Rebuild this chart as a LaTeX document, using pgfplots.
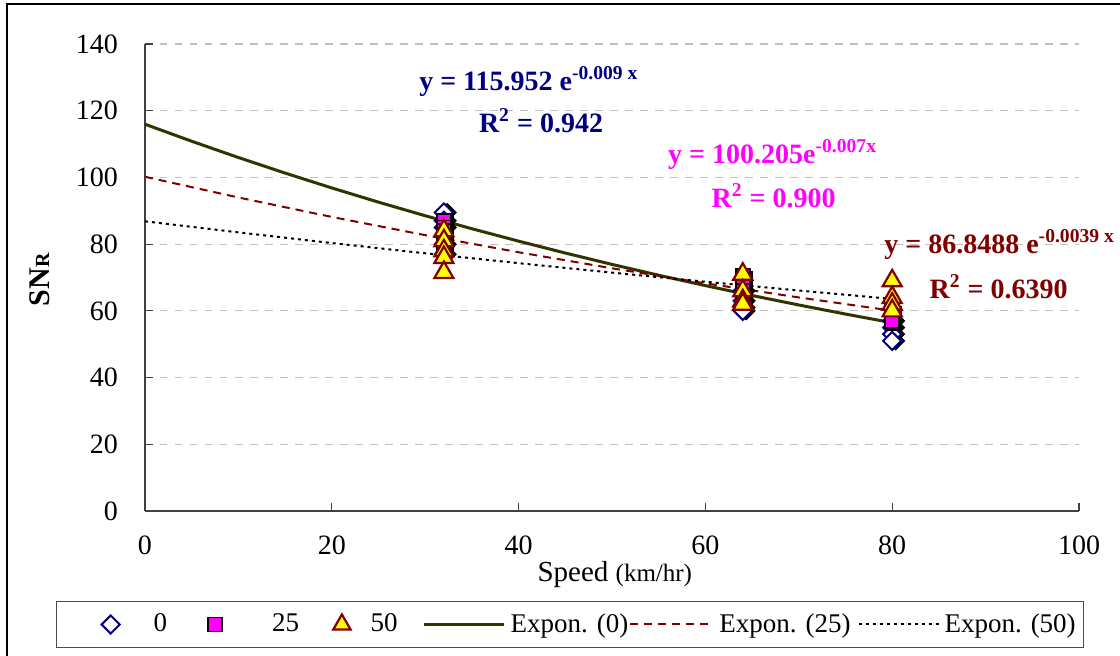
\documentclass[border=0pt]{standalone}
\usepackage{pgfplots}
\pgfplotsset{compat=1.18}
\usepackage{fontspec}
\setmainfont{Liberation Serif}
\definecolor{navy}{RGB}{0,0,128}
\definecolor{dred}{RGB}{128,0,0}
\definecolor{olivetl}{RGB}{51,51,0}
\definecolor{gridg}{RGB}{192,192,192}
\definecolor{magent}{RGB}{255,0,255}
\definecolor{yel}{RGB}{255,255,0}

\pgfplotsset{
  legmarkpad/.style={legend image code/.code={\path (-23pt,0pt); \draw[##1] plot coordinates {(0pt,0pt)};}},
  legmark/.style={legend image code/.code={\draw[##1] plot coordinates {(0pt,0pt)};}},
  leglineA/.style={legend image code/.code={\draw[##1] (0pt,0pt) -- (40pt,0pt);}},
  leglineB/.style={legend image code/.code={\draw[##1] (0pt,0pt) -- (41pt,0pt);}},
}

\pgfplotstableread{
x y
32 89.5
32 87
32 85
32 80
32 77
64 66
64 63
64 61
64 60
80 57
80 55
80 53
80 51
}\sA
\pgfplotstableread{
x y
32 87
32 85
32 84
32 82
32 79
64 70.5
64 68
64 66
64 63
80 60
80 59
80 58
80 57
}\sB
\pgfplotstableread{
x y
32 84
32 81
32 78
32 76
32 71.5
64 71
64 66
64 63
64 62
80 69
80 64
80 62
80 60
}\sC

\begin{document}
\begin{tikzpicture}[x=1pt,y=1pt]
\path[use as bounding box] (-72.5,-72) rectangle (487.5,255.5);
\draw[line width=1pt] (-69,-90) -- (-69,253.5) -- (500,253.5);
\begin{axis}[at={(0,0)}, anchor=south west, scale only axis,
  width=467pt, height=233.5pt,
  xmin=0, xmax=100, ymin=0, ymax=140,
  xtick={0,20,...,100}, ytick={0,20,...,140},
  axis lines=left, axis line style={-, black!75, line width=0.6pt},
  tick align=inside, major tick length=4pt, tick style={black!75, line width=0.6pt},
  ymajorgrids, grid style={gridg, line width=0.6pt, dash pattern=on 3.75pt off 3.75pt},
  ticklabel style={font=\fontsize{14}{16}\selectfont},
  /pgf/number format/assume math mode=true,
  yticklabel style={xshift=-10pt},
  xticklabel style={yshift=-9pt},
  clip=false,
  ylabel={\fontsize{15}{17}\selectfont\bfseries SN{\fontsize{10}{10}\selectfont R}},
  xlabel={\fontsize{14.5}{16}\selectfont Speed {\fontsize{12.5}{14}\selectfont (km/hr)}},
  every axis y label/.style={at={(axis description cs:-0.113,0.495)}, rotate=90, anchor=center},
  every axis x label/.style={at={(axis description cs:0.503,-0.137)}, anchor=center},
  legend columns=6,
  legend style={at={(axis description cs:0.455,-0.243)}, anchor=center,
    draw=black!70, line width=0.5pt, inner xsep=4pt, inner ysep=6pt,
    font=\fontsize{13.5}{15}\selectfont, column sep=0pt, nodes={inner sep=0pt},
    /tikz/column 1/.style={column sep=17pt},
    /tikz/column 2/.style={column sep=20.5pt},
    /tikz/column 3/.style={column sep=25pt},
    /tikz/column 4/.style={column sep=17pt},
    /tikz/column 5/.style={column sep=10pt},
    /tikz/column 6/.style={column sep=12.5pt},
    /tikz/column 7/.style={column sep=2.5pt},
    /tikz/column 8/.style={column sep=0.5pt},
    /tikz/column 9/.style={column sep=3pt},
    /tikz/column 10/.style={column sep=3.5pt},
    /tikz/column 11/.style={column sep=1.5pt}},
]
% diamonds (series 0) with shadow
\addplot[forget plot, only marks, mark=square*, mark size=3.2pt,
  mark options={rotate=45, draw=black, fill=black, xshift=1.2pt, yshift=-1.2pt}] table[x=x,y=y] {\sA};
\addplot[forget plot, only marks, mark=square*, mark size=3.2pt,
  mark options={rotate=45, draw=navy, fill=white, line width=1pt}] table[x=x,y=y] {\sA};
% squares (series 25) with shadow
\addplot[forget plot, only marks, mark=square*, mark size=3.5pt,
  mark options={draw=black, fill=black, xshift=1.2pt, yshift=-1.2pt}] table[x=x,y=y] {\sB};
\addplot[forget plot, only marks, mark=square*, mark size=3.5pt,
  mark options={draw=black, fill=magent, line width=0.8pt}] table[x=x,y=y] {\sB};
% trendlines
\addplot[forget plot, olivetl, line width=1.5pt] coordinates {
 (0,115.95) (5,110.85) (10,105.97) (15,101.31) (20,96.85) (25,92.59) (30,88.52)
 (35,84.62) (40,80.90) (45,77.34) (50,73.93) (55,70.68) (60,67.57) (65,64.60)
 (70,61.76) (75,59.04) (80,56.44)};
\addplot[forget plot, dred, line width=1pt, dash pattern=on 4pt off 3pt] coordinates {
 (0,100.2) (10,93.99) (20,88.16) (30,82.70) (40,77.57) (50,72.76) (60,68.25) (70,64.02) (80,60.05)};
\addplot[forget plot, black, line width=1pt, dash pattern=on 1.5pt off 2pt] coordinates {
 (0,86.85) (10,83.53) (20,80.33) (30,77.26) (40,74.30) (50,71.46) (60,68.73) (70,66.10) (80,63.57)};
% triangles (series 50)
\addplot[forget plot, only marks, mark=triangle*, mark size=5.5pt,
  mark options={draw=dred, fill=yel, line width=1.1pt}] table[x=x,y=y] {\sC};

% legend
\addlegendimage{only marks, mark=square*, mark size=3.2pt,
  mark options={rotate=45, draw=navy, fill=white, line width=1pt}, legmarkpad}
\addlegendentry{0}
\addlegendimage{only marks, mark=square*, mark size=3.5pt,
  mark options={draw=black, fill=magent, line width=0.8pt}, legmark}
\addlegendentry{25}
\addlegendimage{only marks, mark=triangle*, mark size=5pt,
  mark options={draw=dred, fill=yel, line width=1.1pt}, legmark}
\addlegendentry{50}
\addlegendimage{olivetl, line width=1.5pt, leglineA}
\addlegendentry{Expon. (0)}
\addlegendimage{dred, line width=1pt, dash pattern=on 4pt off 3pt, leglineB}
\addlegendentry{Expon. (25)}
\addlegendimage{black, line width=1pt, dash pattern=on 1.5pt off 2pt, leglineB}
\addlegendentry{Expon. (50)}

% equations
\node[anchor=base, text=navy, font=\fontsize{14}{16}\selectfont\bfseries] at (axis cs:41.1,126.2)
  {y = 115.952 e\textsuperscript{-0.009 x}};
\node[anchor=base, text=navy, font=\fontsize{14}{16}\selectfont\bfseries] at (axis cs:42.4,113.6)
  {R\textsuperscript{2} = 0.942};
\node[anchor=base, text=magent, font=\fontsize{14}{16}\selectfont\bfseries] at (axis cs:67.2,104.3)
  {y = 100.205e\textsuperscript{-0.007x}};
\node[anchor=base, text=magent, font=\fontsize{14}{16}\selectfont\bfseries] at (axis cs:67.3,91.1)
  {R\textsuperscript{2} = 0.900};
\node[anchor=base, text=dred, font=\fontsize{14}{16}\selectfont\bfseries] at (axis cs:91.5,77.3)
  {y = 86.8488 e\textsuperscript{-0.0039 x}};
\node[anchor=base, text=dred, font=\fontsize{14}{16}\selectfont\bfseries] at (axis cs:91.4,63.8)
  {R\textsuperscript{2} = 0.6390};
\end{axis}
\end{tikzpicture}
\end{document}
